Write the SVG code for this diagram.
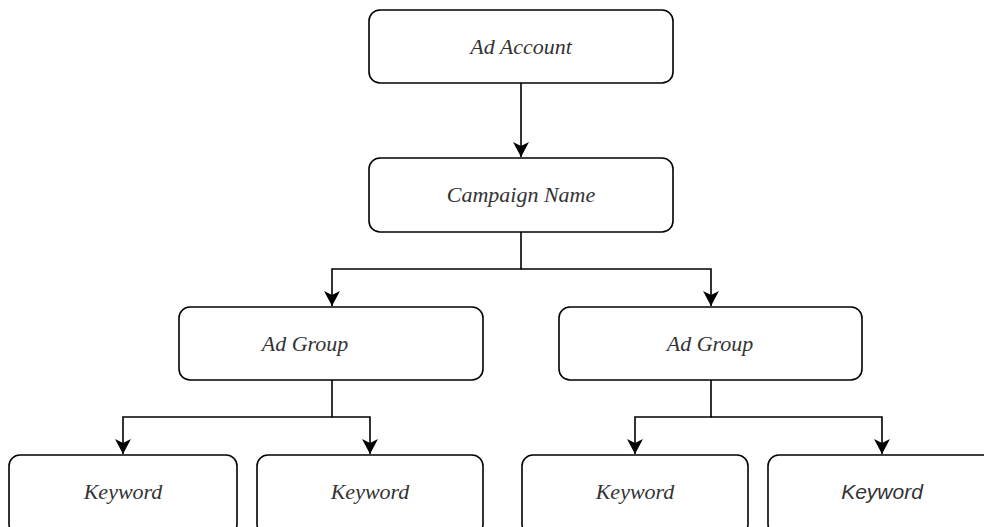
<svg xmlns="http://www.w3.org/2000/svg" width="984" height="527" viewBox="0 0 984 527">
  <style>
    .box { fill: #ffffff; stroke: #000000; stroke-width: 1.6; }
    .lbl { font-family: "Liberation Serif", "Times New Roman", serif; font-style: italic; font-size: 22px; fill: #333333; text-anchor: middle; dominant-baseline: central; }
    .sans { font-family: "Liberation Sans", Arial, sans-serif; font-size: 21px; }
    .wire { fill: none; stroke: #000000; stroke-width: 1.6; }
  </style>
  <defs>
    <marker id="arrow" markerWidth="15" markerHeight="16" refX="15" refY="8" orient="auto" markerUnits="userSpaceOnUse" viewBox="0 0 15 16">
      <path d="M0,0 L15,8 L0,16 L4,8 Z" fill="#000000"/>
    </marker>
  </defs>
  <rect width="984" height="527" fill="#ffffff"/>

  <g id="connectors">
    <path class="wire" d="M521,83 V157" marker-end="url(#arrow)"/>
    <path class="wire" d="M521,232 V269 H332 V306" marker-end="url(#arrow)"/>
    <path class="wire" d="M521,269 H711 V306" marker-end="url(#arrow)"/>
    <path class="wire" d="M332,380 V417 H123 V454" marker-end="url(#arrow)"/>
    <path class="wire" d="M332,417 H370 V454" marker-end="url(#arrow)"/>
    <path class="wire" d="M711,380 V417 H635 V454" marker-end="url(#arrow)"/>
    <path class="wire" d="M711,417 H882 V454" marker-end="url(#arrow)"/>
  </g>

  <g id="ad-account">
    <rect class="box" x="369" y="10" width="304" height="73" rx="11"/>
    <text class="lbl" x="521" y="46">Ad Account</text>
  </g>
  <g id="campaign-name">
    <rect class="box" x="369" y="158" width="304" height="74" rx="11"/>
    <text class="lbl" x="521" y="194">Campaign Name</text>
  </g>
  <g id="ad-group-left">
    <rect class="box" x="179" y="307" width="304" height="73" rx="11"/>
    <text class="lbl" x="305" y="343">Ad Group</text>
  </g>
  <g id="ad-group-right">
    <rect class="box" x="559" y="307" width="303" height="73" rx="11"/>
    <text class="lbl" x="710" y="343">Ad Group</text>
  </g>
  <g id="keyword-1">
    <rect class="box" x="9" y="455" width="228" height="80" rx="11"/>
    <text class="lbl" x="123" y="491">Keyword</text>
  </g>
  <g id="keyword-2">
    <rect class="box" x="257" y="455" width="226" height="80" rx="11"/>
    <text class="lbl" x="370" y="491">Keyword</text>
  </g>
  <g id="keyword-3">
    <rect class="box" x="522" y="455" width="226" height="80" rx="11"/>
    <text class="lbl" x="635" y="491">Keyword</text>
  </g>
  <g id="keyword-4">
    <rect class="box" x="768" y="455" width="228" height="80" rx="11"/>
    <text class="lbl sans" x="882" y="491">Keyword</text>
  </g>
</svg>
